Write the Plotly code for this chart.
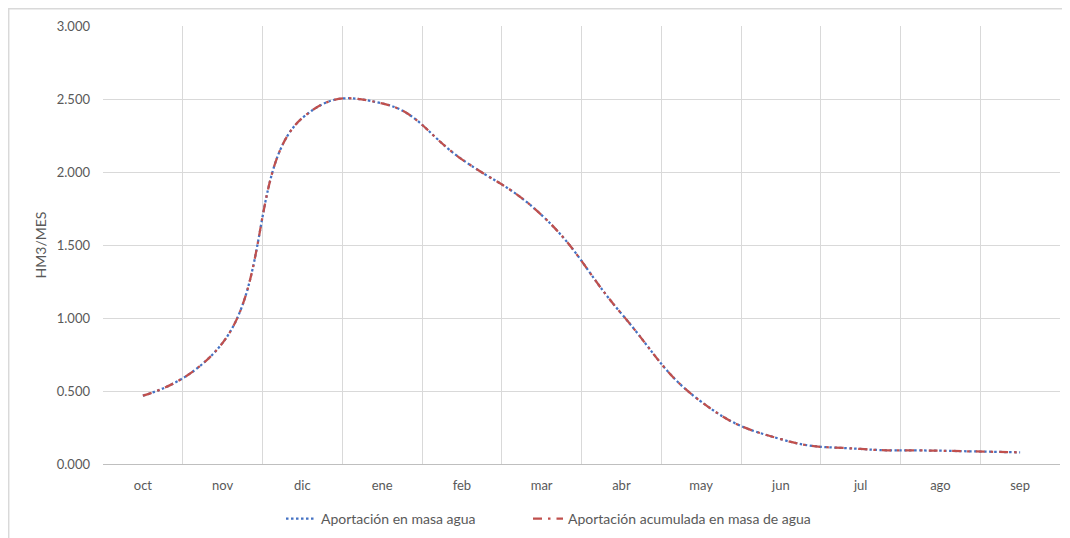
import plotly.graph_objects as go

months = ["oct", "nov", "dic", "ene", "feb", "mar", "abr", "may", "jun", "jul", "ago", "sep"]
aportacion = [0.468, 0.83, 2.37, 2.47, 2.087, 1.705, 1.03, 0.427, 0.17, 0.103, 0.091, 0.08]
aportacion_acumulada = [0.468, 0.83, 2.37, 2.47, 2.087, 1.705, 1.03, 0.427, 0.17, 0.103, 0.091, 0.08]

# page offset (browser body margin)
OFF = 8
W, H = 1070 - OFF, 538 - OFF
# plot area in page pixels
PL, PR, PT, PB = 103, 1060, 26, 464
L, R, T, B = PL - OFF, PR - OFF, PT - OFF, PB - OFF

def px2paper_x(px):
    return (px - OFF - L) / (R - L)

def px2paper_y(py):
    return (B - (py - OFF)) / (B - T)

xs = list(range(len(months)))
font = "Lato, 'Open Sans', sans-serif"
txt = "#595959"

fig = go.Figure()
fig.add_trace(go.Scatter(
    x=xs, y=aportacion, mode="lines", name="Aportación en masa agua",
    line=dict(color="#4472C4", width=2.25, dash="2.5px,2.5px", shape="spline", smoothing=1.3),
    legend="legend",
))
fig.add_trace(go.Scatter(
    x=xs, y=aportacion_acumulada, mode="lines", name="Aportación acumulada en masa de agua",
    line=dict(color="#C0504D", width=2.25, dash="9px,6px,2.5px,6px", shape="spline", smoothing=1.3),
    legend="legend2",
))

legend_common = dict(orientation="h", xanchor="left", yanchor="middle",
                     y=px2paper_y(519), font=dict(size=14, color=txt),
                     bgcolor="rgba(0,0,0,0)")

fig.update_layout(
    width=W, height=H,
    margin=dict(l=L, r=W - R, t=T, b=H - B, autoexpand=False),
    paper_bgcolor="white", plot_bgcolor="white",
    font=dict(family=font, size=13, color=txt),
    separators=".,",
    showlegend=True,
    legend=dict(x=px2paper_x(281), **legend_common),
    legend2=dict(x=px2paper_x(528), **legend_common),
    shapes=[
        dict(type="line", xref="paper", yref="paper", x0=px2paper_x(8), x1=px2paper_x(1071),
             y0=px2paper_y(8.7), y1=px2paper_y(8.7), line=dict(color="#D9D9D9", width=1.5)),
        dict(type="line", xref="paper", yref="paper", x0=px2paper_x(8.7), x1=px2paper_x(8.7),
             y0=px2paper_y(8), y1=px2paper_y(539), line=dict(color="#D9D9D9", width=1.5)),
    ],
)

fig.update_xaxes(
    range=[-0.5, len(months) - 0.5],
    tickmode="array", tickvals=xs, ticktext=months,
    showgrid=False, zeroline=False,
    showline=True, linecolor="#BFBFBF", linewidth=1,
    ticks="", ticklabelstandoff=9,
    tickfont=dict(size=13, color=txt),
    minor=dict(tickmode="array", tickvals=[i - 0.5 for i in range(len(months) + 1)],
               showgrid=True, gridcolor="#D9D9D9", gridwidth=1, ticks=""),
)
fig.update_yaxes(
    range=[0, 3], dtick=0.5, tickformat=".3f",
    showgrid=True, gridcolor="#D9D9D9", gridwidth=1,
    zeroline=False, showline=False, ticks="",
    ticklabelstandoff=12,
    tickfont=dict(size=13, color=txt),
    title=dict(text="HM3/MES", font=dict(size=14, color=txt), standoff=6),
)

fig.write_html("out.html")
